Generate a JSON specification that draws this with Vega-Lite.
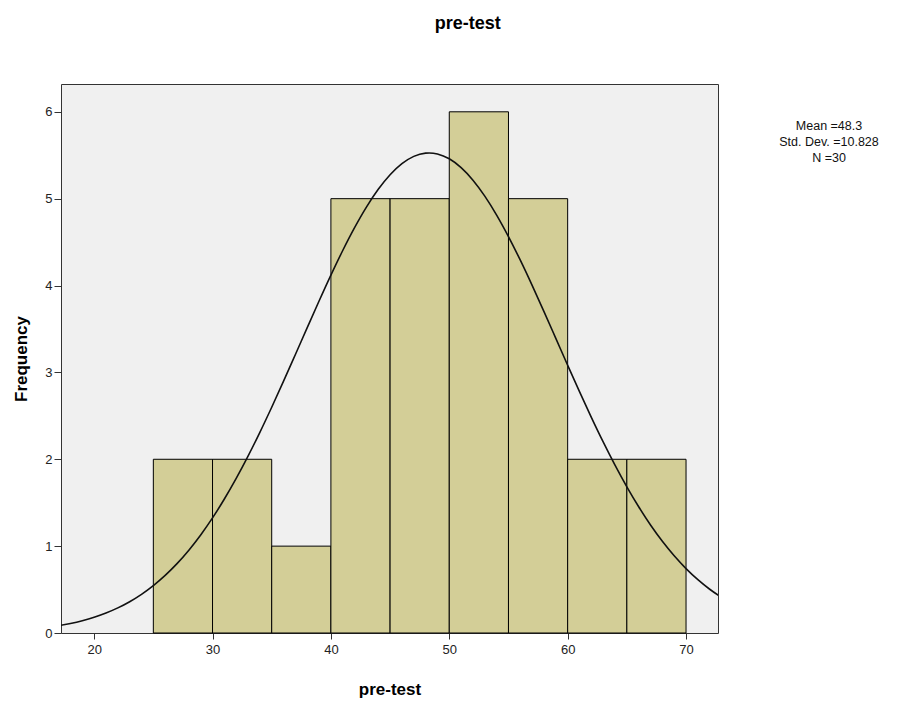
{
  "$schema": "https://vega.github.io/schema/vega-lite/v6.json",
  "background": "white",
  "padding": {"left": 12, "top": 14, "right": 0, "bottom": 0},
  "title": {"text": "pre-test", "font": "Liberation Sans", "fontSize": 18, "fontWeight": "bold", "color": "#000", "anchor": "middle", "offset": 51, "dx": 22},
  "datasets": {
    "bins": [
      {"start": 25, "end": 30, "count": 2},
      {"start": 30, "end": 35, "count": 2},
      {"start": 35, "end": 40, "count": 1},
      {"start": 40, "end": 45, "count": 5},
      {"start": 45, "end": 50, "count": 5},
      {"start": 50, "end": 55, "count": 6},
      {"start": 55, "end": 60, "count": 5},
      {"start": 60, "end": 65, "count": 2},
      {"start": 65, "end": 70, "count": 2}
    ],
    "curve": [
      {"x": 17, "y": 0.0847}, {"x": 18, "y": 0.1101}, {"x": 19, "y": 0.1421}, {"x": 20, "y": 0.1816},
      {"x": 21, "y": 0.2302}, {"x": 22, "y": 0.2893}, {"x": 23, "y": 0.3605}, {"x": 24, "y": 0.4456},
      {"x": 25, "y": 0.5459}, {"x": 26, "y": 0.6629}, {"x": 27, "y": 0.7983}, {"x": 28, "y": 0.9533},
      {"x": 29, "y": 1.1288}, {"x": 30, "y": 1.3249}, {"x": 31, "y": 1.5423}, {"x": 32, "y": 1.7799},
      {"x": 33, "y": 2.0366}, {"x": 34, "y": 2.3106}, {"x": 35, "y": 2.5992}, {"x": 36, "y": 2.8989},
      {"x": 37, "y": 3.2061}, {"x": 38, "y": 3.5154}, {"x": 39, "y": 3.8218}, {"x": 40, "y": 4.1197},
      {"x": 41, "y": 4.4033}, {"x": 42, "y": 4.666}, {"x": 43, "y": 4.9026}, {"x": 44, "y": 5.1075},
      {"x": 45, "y": 5.2757}, {"x": 46, "y": 5.4032}, {"x": 47, "y": 5.4868}, {"x": 48, "y": 5.5244},
      {"x": 48.3, "y": 5.5265}, {"x": 49, "y": 5.515}, {"x": 50, "y": 5.4588}, {"x": 51, "y": 5.3573},
      {"x": 52, "y": 5.2131}, {"x": 53, "y": 5.0297}, {"x": 54, "y": 4.8115}, {"x": 55, "y": 4.5636},
      {"x": 56, "y": 4.2918}, {"x": 57, "y": 4.0019}, {"x": 58, "y": 3.6999}, {"x": 59, "y": 3.3917},
      {"x": 60, "y": 3.0827}, {"x": 61, "y": 2.7779}, {"x": 62, "y": 2.4822}, {"x": 63, "y": 2.1991},
      {"x": 64, "y": 1.9317}, {"x": 65, "y": 1.6824}, {"x": 66, "y": 1.4529}, {"x": 67, "y": 1.2439},
      {"x": 68, "y": 1.0561}, {"x": 69, "y": 0.8889}, {"x": 70, "y": 0.7418}, {"x": 71, "y": 0.6139},
      {"x": 72, "y": 0.5037}, {"x": 73, "y": 0.4098}
    ],
    "stats": [
      {"line": 1, "label": "Mean =48.3"},
      {"line": 2, "label": "Std. Dev. =10.828"},
      {"line": 3, "label": "N =30"}
    ]
  },
  "spacing": 60,
  "hconcat": [
    {
      "width": 657,
      "height": 549,
      "view": {"fill": "#f0f0f0", "stroke": "#333", "strokeWidth": 1},
      "layer": [
        {
          "data": {"name": "bins"},
          "mark": {"type": "rect", "fill": "#d3ce97", "stroke": "#000", "strokeWidth": 1},
          "encoding": {
            "x": {"field": "start", "type": "quantitative",
                  "scale": {"domain": [17.2, 72.7], "nice": false, "zero": false},
                  "axis": {"title": "pre-test", "values": [20, 30, 40, 50, 60, 70], "format": "d", "domain": false, "grid": false,
                           "tickSize": 6, "tickColor": "#333", "labelFont": "Liberation Sans", "labelFontSize": 13,
                           "labelColor": "#222", "labelPadding": 4, "titleFont": "Liberation Sans", "titleFontSize": 17,
                           "titleFontWeight": "bold", "titleColor": "#000", "titlePadding": 25}},
            "x2": {"field": "end"},
            "y": {"field": "count", "type": "quantitative",
                  "scale": {"domain": [0, 6.32], "nice": false},
                  "axis": {"title": "Frequency", "values": [0, 1, 2, 3, 4, 5, 6], "format": "d", "domain": false, "grid": false,
                           "tickSize": 7, "tickColor": "#333", "labelFont": "Liberation Sans", "labelFontSize": 13,
                           "labelColor": "#222", "labelPadding": 2, "titleFont": "Liberation Sans", "titleFontSize": 17,
                           "titleFontWeight": "bold", "titleColor": "#000", "titlePadding": 14}},
            "y2": {"datum": 0}
          }
        },
        {
          "data": {"name": "curve"},
          "mark": {"type": "line", "color": "#111", "strokeWidth": 1.6, "clip": true, "interpolate": "monotone"},
          "encoding": {
            "x": {"field": "x", "type": "quantitative"},
            "y": {"field": "y", "type": "quantitative"}
          }
        }
      ]
    },
    {
      "width": 100,
      "height": 549,
      "view": {"stroke": null, "fill": null},
      "data": {"name": "stats"},
      "mark": {"type": "text", "font": "Liberation Sans", "fontSize": 12.5, "color": "#111", "align": "center", "baseline": "middle"},
      "encoding": {
        "y": {"field": "line", "type": "ordinal", "scale": {"type": "point", "range": [42, 74], "padding": 0}, "axis": null},
        "text": {"field": "label"}
      }
    }
  ]
}
